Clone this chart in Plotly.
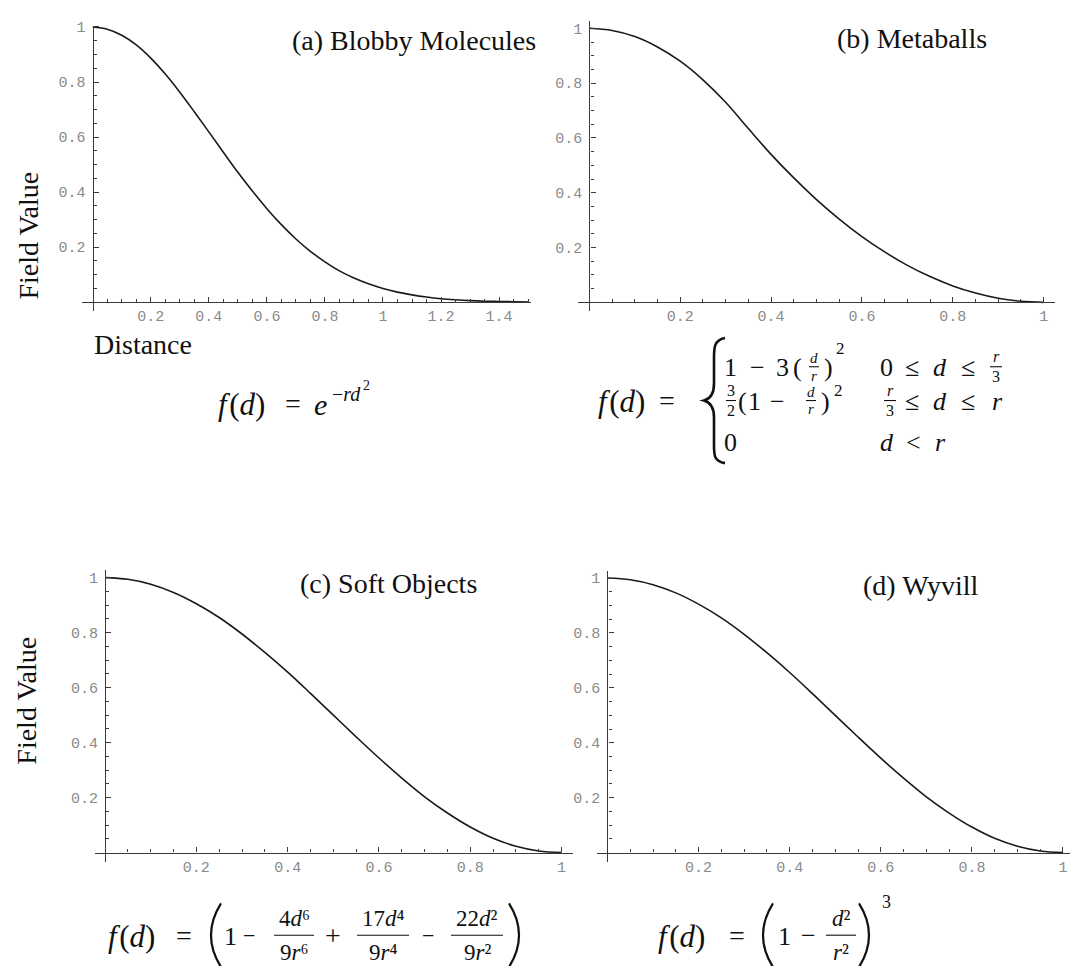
import plotly.graph_objects as go

W, H = 1070, 966

# ---------------- data ----------------
d_a = [0, 0.05, 0.1, 0.15, 0.2, 0.25, 0.3, 0.35, 0.4, 0.45, 0.5, 0.55, 0.6, 0.65, 0.7, 0.75,
       0.8, 0.85, 0.9, 0.95, 1.0, 1.05, 1.1, 1.15, 1.2, 1.25, 1.3, 1.35, 1.4, 1.45, 1.5]
f_a = [1.0, 0.992, 0.970, 0.935, 0.887, 0.829, 0.763, 0.692, 0.619, 0.545, 0.472, 0.404,
       0.340, 0.282, 0.230, 0.185, 0.147, 0.114, 0.088, 0.067, 0.050, 0.037, 0.027, 0.019,
       0.013, 0.009, 0.006, 0.004, 0.003, 0.002, 0.001]

d_b = [0, 0.05, 0.1, 0.15, 0.2, 0.25, 0.3, 0.35, 0.4, 0.45, 0.5, 0.55, 0.6, 0.65, 0.7, 0.75,
       0.8, 0.85, 0.9, 0.95, 1.0]
f_b = [1.0, 0.992, 0.970, 0.932, 0.880, 0.812, 0.730, 0.634, 0.540, 0.454, 0.375, 0.304,
       0.240, 0.184, 0.135, 0.094, 0.060, 0.034, 0.015, 0.004, 0.0]

d_c = [0, 0.05, 0.1, 0.15, 0.2, 0.25, 0.3, 0.35, 0.4, 0.45, 0.5, 0.55, 0.6, 0.65, 0.7, 0.75,
       0.8, 0.85, 0.9, 0.95, 1.0]
f_c = [1.0, 0.994, 0.976, 0.946, 0.905, 0.855, 0.795, 0.728, 0.656, 0.579, 0.500, 0.421,
       0.344, 0.271, 0.203, 0.144, 0.093, 0.052, 0.023, 0.006, 0.0]

d_d = [0, 0.05, 0.1, 0.15, 0.2, 0.25, 0.3, 0.35, 0.4, 0.45, 0.5, 0.55, 0.6, 0.65, 0.7, 0.75,
       0.8, 0.85, 0.9, 0.95, 1.0]
f_d = [1.0, 0.994, 0.976, 0.946, 0.905, 0.855, 0.795, 0.728, 0.656, 0.579, 0.500, 0.421,
       0.344, 0.271, 0.203, 0.144, 0.093, 0.052, 0.023, 0.006, 0.0]

xticks_a = [0.2, 0.4, 0.6, 0.8, 1.0, 1.2, 1.4]
xlabels_a = ["0.2", "0.4", "0.6", "0.8", "1", "1.2", "1.4"]
xticks_1 = [0.2, 0.4, 0.6, 0.8, 1.0]
xlabels_1 = ["0.2", "0.4", "0.6", "0.8", "1"]
yticks = [0.2, 0.4, 0.6, 0.8, 1.0]
ylabels = ["0.2", "0.4", "0.6", "0.8", "1"]
minor_a = [0.05, 0.1, 0.15, 0.25, 0.3, 0.35, 0.45, 0.5, 0.55, 0.65, 0.7, 0.75, 0.85, 0.9, 0.95,
           1.05, 1.1, 1.15, 1.25, 1.3, 1.35, 1.45, 1.5]
minor_1 = [0.05, 0.1, 0.15, 0.25, 0.3, 0.35, 0.45, 0.5, 0.55, 0.65, 0.7, 0.75, 0.85, 0.9, 0.95]

titles = ["(a) Blobby Molecules", "(b) Metaballs", "(c) Soft Objects", "(d) Wyvill"]

# ---------------- layout helpers ----------------
def PX(x):
    return x / W


def PY(y):
    return 1 - y / H


AX = "#3a3a3a"
TICKFONT = dict(family="Liberation Mono", size=15, color="#8a8a8a")
SERIF = "Liberation Serif"

panels = [
    dict(d=d_a, f=f_a, xd=(82, 531), xr=(-0.037, 1.51), yd=(20, 307), yr=(-0.032, 1.004),
         xt=xticks_a, xl=xlabels_a, mn=minor_a),
    dict(d=d_b, f=f_b, xd=(578, 1055), xr=(-0.025, 1.025), yd=(15, 307), yr=(-0.032, 1.027),
         xt=xticks_1, xl=xlabels_1, mn=minor_1),
    dict(d=d_c, f=f_c, xd=(95, 573), xr=(-0.022, 1.025), yd=(568, 861), yr=(-0.033, 1.026),
         xt=xticks_1, xl=xlabels_1, mn=minor_1),
    dict(d=d_d, f=f_d, xd=(597, 1070), xr=(-0.023, 1.0154), yd=(569, 861), yr=(-0.033, 1.024),
         xt=xticks_1, xl=xlabels_1, mn=minor_1),
]

fig = go.Figure()
layout = {}
for i, p in enumerate(panels):
    k = "" if i == 0 else str(i + 1)
    xdom = [PX(p["xd"][0]), PX(p["xd"][1])]
    ydom = [PY(p["yd"][1]), PY(p["yd"][0])]
    ypos = ydom[0] + (0 - p["yr"][0]) / (p["yr"][1] - p["yr"][0]) * (ydom[1] - ydom[0])
    xpos = xdom[0] + (0 - p["xr"][0]) / (p["xr"][1] - p["xr"][0]) * (xdom[1] - xdom[0])
    common = dict(showline=True, linecolor=AX, linewidth=1.3, ticks="inside", ticklen=5,
                  tickwidth=1, tickcolor=AX, tickmode="array", tickfont=TICKFONT,
                  showgrid=False, zeroline=False, fixedrange=True, anchor="free")
    layout["xaxis" + k] = dict(common, domain=xdom, range=list(p["xr"]), position=ypos,
                               tickvals=p["xt"], ticktext=p["xl"],
                               minor=dict(ticks="inside", ticklen=3, tickcolor=AX,
                                          tickvals=p["mn"], showgrid=False))
    layout["yaxis" + k] = dict(common, domain=ydom, range=list(p["yr"]), position=xpos,
                               tickvals=yticks, ticktext=ylabels, ticklabelstandoff=4,
                               minor=dict(ticks="inside", ticklen=3, tickcolor=AX,
                                          tickvals=minor_1, showgrid=False))
    fig.add_trace(go.Scatter(x=p["d"], y=p["f"], mode="lines", xaxis="x" + k, yaxis="y" + k,
                             line=dict(color="#1a1a1a", width=1.6, shape="spline"),
                             showlegend=False, hoverinfo="skip"))

annotations = []
shapes = []


def txt(x, y, s, size=26, xanchor="center", yanchor="middle", angle=0, family=SERIF,
        color="#111111"):
    annotations.append(dict(x=PX(x), y=PY(y), xref="paper", yref="paper", text=s,
                            showarrow=False, xanchor=xanchor, yanchor=yanchor,
                            textangle=angle, font=dict(family=family, size=size, color=color)))


def hline(x0, x1, y, w=1.3):
    shapes.append(dict(type="line", xref="paper", yref="paper", x0=PX(x0), x1=PX(x1),
                       y0=PY(y), y1=PY(y), line=dict(color="#111111", width=w)))


def path(pts, w=2.0):
    s = ""
    for cmd, ps in pts:
        s += cmd + " " + " ".join("%.5f,%.5f" % (PX(x), PY(y)) for x, y in ps) + " "
    shapes.append(dict(type="path", xref="paper", yref="paper", path=s.strip(),
                       line=dict(color="#111111", width=w)))


def frac(num, den, cx, ybar, size, halfw, gap):
    txt(cx, ybar - gap, num, size=size)
    txt(cx, ybar + gap, den, size=size)
    hline(cx - halfw, cx + halfw, ybar, w=1.1)


FD = "<i>f</i>\u200a(<i>d</i>)"

# titles
txt(414, 35, titles[0], size=28)
txt(912, 33, titles[1], size=28)
txt(388, 581, titles[2], size=28)
txt(920, 583, titles[3], size=28)

# axis labels
txt(29, 231, "Field Value", size=28, angle=-90)
txt(27, 699, "Field Value", size=28, angle=-90)
txt(143, 341, "Distance", size=28)

# ---- equation (a)
txt(216, 401, FD, size=31, xanchor="left")
txt(293, 400, "=", size=28)
txt(320, 401, "<i>e</i>", size=30)
txt(330, 390, "−<i>rd</i>", size=20, xanchor="left")
txt(366, 382, "2", size=14)

# ---- equation (b)
txt(596, 398, FD, size=31, xanchor="left")
txt(667, 397, "=", size=28)
path([("M", [(725, 334)]), ("C", [(714, 336), (714, 344), (714, 354)]),
      ("L", [(714, 380)]), ("C", [(714, 390), (711, 395), (704, 397)]),
      ("C", [(711, 399), (714, 404), (714, 414)]), ("L", [(714, 442)]),
      ("C", [(714, 452), (714, 458), (725, 460)])], w=2.6)
R1, R2, R3 = 364, 398, 439
# row 1
txt(730, R1, "1", size=26)
txt(757, R1, "−", size=26)
txt(782, R1, "3", size=26)
txt(797, R1, "(", size=26)
frac("<i>d</i>", "<i>r</i>", 814, R1 - 1, 15, 5, 9)
txt(828, R1, ")", size=26)
txt(840, 345, "2", size=17)
txt(886, R1, "0", size=26)
txt(912, R1, "≤", size=26)
txt(940, R1, "<i>d</i>", size=26)
txt(968, R1, "≤", size=26)
frac("<i>r</i>", "3", 996, R1 - 1, 16, 6, 10)
# row 2
frac("3", "2", 731, R2 - 1, 16, 5, 10)
txt(742, R2, "(", size=26)
txt(754, R2, "1", size=26)
txt(777, R2, "−", size=26)
frac("<i>d</i>", "<i>r</i>", 811, R2 - 1, 15, 5, 9)
txt(825, R2, ")", size=26)
txt(838, 387, "2", size=17)
frac("<i>r</i>", "3", 890, R2 - 1, 16, 6, 10)
txt(912, R2, "≤", size=26)
txt(940, R2, "<i>d</i>", size=26)
txt(968, R2, "≤", size=26)
txt(997, R2, "<i>r</i>", size=26)
# row 3
txt(730, R3, "0", size=26)
txt(887, R3, "<i>d</i>", size=26)
txt(913, R3, "<", size=26)
txt(940, R3, "<i>r</i>", size=26)

# ---- equation (c)
txt(106, 936, FD, size=31, xanchor="left")
txt(184, 935, "=", size=28)
path([("M", [(221, 903)]), ("Q", [(201, 935), (221, 967)])], w=2.2)
txt(230, 936, "1", size=26)
txt(249, 935, "−", size=22)
frac("4<i>d</i>⁶", "9<i>r</i>⁶", 294, 935, 23, 20, 17)
txt(333, 935, "+", size=28)
frac("17<i>d</i>⁴", "9<i>r</i>⁴", 383, 935, 23, 26, 17)
txt(428, 935, "−", size=22)
frac("22<i>d</i>²", "9<i>r</i>²", 477, 935, 23, 26, 17)
path([("M", [(509, 903)]), ("Q", [(529, 935), (509, 967)])], w=2.2)

# ---- equation (d)
txt(656, 936, FD, size=31, xanchor="left")
txt(737, 935, "=", size=28)
path([("M", [(773, 903)]), ("Q", [(753, 935), (773, 967)])], w=2.2)
txt(784, 936, "1", size=26)
txt(808, 935, "−", size=26)
frac("<i>d</i>²", "<i>r</i>²", 841, 935, 23, 15, 17)
path([("M", [(859, 903)]), ("Q", [(879, 935), (859, 967)])], w=2.2)
txt(886, 902, "3", size=18)

fig.update_layout(
    width=W, height=H, margin=dict(l=0, r=0, t=0, b=0),
    paper_bgcolor="white", plot_bgcolor="white", showlegend=False,
    annotations=annotations, shapes=shapes, **layout,
)

fig.write_html("out.html", config={"displayModeBar": False})
